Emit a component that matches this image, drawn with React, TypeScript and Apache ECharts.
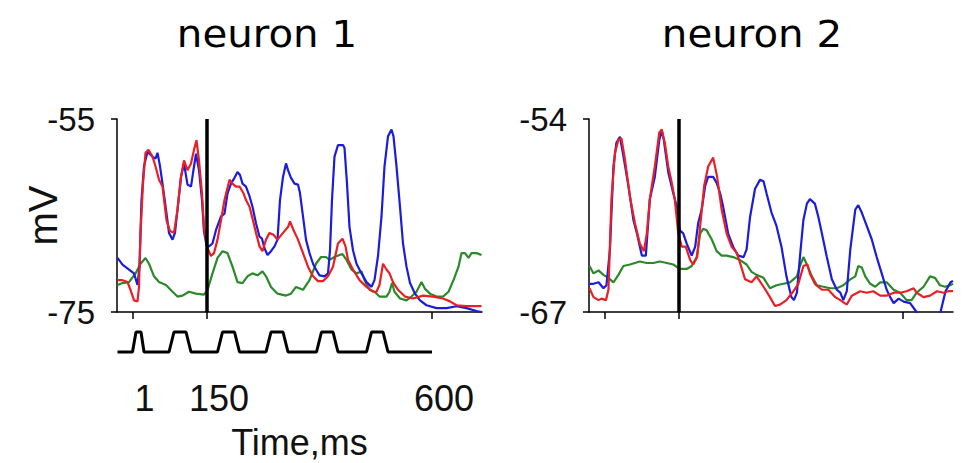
import React, { useEffect, useRef } from 'react';
import * as echarts from 'echarts';

const X_MIN = -30;
const X_MAX = 700;
const xTickValues = [1, 150, 600];
const stimulusOnset = 150;
const n1YTicks = [-75, -55];
const n2YTicks = [-67, -54];
const titles = ['neuron 1', 'neuron 2'];

// neuron 1 traces: [time ms, mV]
const n1Blue = [[-29,-69.4],[-19,-70.1],[-6,-70.6],[4,-71.0],[11,-72.2],[15,-70.3],[19,-63.4],[24,-59.9],[31,-58.4],[41,-58.9],[47,-59.1],[51,-58.5],[56,-59.9],[61,-61.7],[68,-64.4],[74,-66.8],[81,-67.5],[86,-66.8],[91,-64.4],[98,-61.0],[104,-59.6],[111,-61.8],[118,-62.0],[122,-60.6],[128,-58.6],[134,-60.3],[140,-63.4],[144,-66.7],[149,-68.1],[154,-68.2],[161,-67.9],[168,-66.5],[178,-65.1],[185,-64.8],[191,-62.7],[198,-61.7],[205,-61.1],[211,-60.5],[216,-60.8],[221,-61.7],[228,-62.0],[235,-63.0],[241,-64.1],[248,-65.8],[255,-67.2],[260,-67.4],[265,-68.4],[271,-69.1],[278,-68.7],[285,-68.2],[291,-67.5],[296,-63.4],[302,-61.0],[308,-59.6],[312,-60.3],[318,-61.1],[325,-61.7],[332,-61.8],[336,-62.7],[342,-65.1],[348,-67.5],[355,-68.9],[362,-70.0],[368,-70.6],[375,-71.2],[385,-71.3],[392,-71.0],[396,-68.6],[400,-63.4],[405,-58.9],[412,-57.7],[422,-57.7],[425,-58.0],[430,-61.7],[435,-66.2],[442,-68.6],[449,-70.0],[459,-71.0],[469,-71.9],[479,-72.4],[485,-71.7],[492,-69.2],[499,-65.1],[505,-59.9],[512,-56.8],[519,-56.1],[523,-56.8],[529,-59.9],[536,-64.1],[542,-67.9],[549,-70.3],[556,-72.0],[566,-73.1],[576,-73.8],[589,-74.3],[609,-74.6],[629,-74.6],[649,-74.4],[669,-74.6],[689,-74.9],[699,-75.0]];
const n1Red = [[-29,-71.7],[-19,-71.7],[-9,-71.9],[-3,-72.7],[4,-73.8],[11,-73.9],[14,-72.4],[17,-66.8],[22,-61.7],[27,-58.5],[33,-58.2],[41,-58.9],[47,-59.9],[54,-61.3],[61,-62.0],[69,-65.5],[76,-66.6],[84,-66.8],[91,-64.4],[98,-61.0],[104,-59.3],[111,-60.3],[118,-59.6],[124,-58.2],[129,-57.2],[134,-59.3],[140,-62.7],[144,-66.2],[151,-68.4],[158,-69.2],[164,-68.9],[171,-67.5],[178,-65.5],[185,-63.4],[195,-61.3],[201,-61.7],[208,-62.0],[215,-62.0],[223,-62.7],[228,-63.4],[235,-64.1],[241,-65.3],[248,-66.8],[255,-68.2],[261,-68.7],[268,-67.5],[275,-66.8],[283,-67.0],[291,-67.5],[302,-66.8],[312,-66.2],[316,-65.6],[323,-66.5],[332,-67.5],[342,-68.9],[352,-70.3],[362,-71.3],[372,-71.8],[382,-71.8],[392,-71.3],[402,-70.3],[412,-67.9],[421,-67.4],[427,-68.2],[432,-69.6],[442,-70.6],[455,-71.7],[469,-72.4],[482,-72.9],[489,-72.9],[495,-72.2],[502,-70.0],[509,-70.6],[515,-71.0],[522,-71.9],[532,-72.7],[546,-73.4],[562,-73.6],[582,-73.3],[602,-73.4],[622,-73.6],[636,-73.9],[649,-74.3],[669,-74.4],[699,-74.4]];
const n1Green = [[-29,-72.2],[-19,-72.0],[-6,-71.9],[7,-71.0],[17,-70.0],[27,-69.4],[34,-70.0],[44,-71.3],[54,-71.9],[68,-72.2],[81,-72.9],[91,-73.4],[101,-73.3],[114,-72.9],[128,-73.1],[144,-73.2],[151,-72.7],[161,-71.0],[171,-69.4],[181,-68.7],[191,-68.9],[201,-70.3],[211,-71.9],[221,-72.0],[231,-71.3],[241,-71.0],[251,-71.2],[261,-70.8],[268,-71.3],[278,-72.4],[291,-73.1],[308,-73.3],[318,-73.1],[328,-72.4],[342,-72.7],[355,-71.7],[368,-70.0],[378,-69.3],[388,-69.3],[395,-69.6],[405,-69.3],[415,-69.1],[421,-69.0],[429,-69.6],[439,-70.6],[449,-71.0],[459,-70.8],[465,-71.7],[475,-72.7],[485,-72.9],[495,-73.4],[509,-73.4],[515,-72.9],[520,-72.0],[525,-72.9],[536,-73.6],[549,-73.8],[559,-73.4],[569,-72.9],[579,-71.9],[586,-72.6],[596,-73.1],[609,-73.4],[622,-73.4],[633,-72.9],[643,-71.7],[653,-70.3],[659,-68.9],[666,-68.9],[673,-69.4],[679,-68.9],[689,-68.9],[699,-69.1]];

// neuron 2 traces: [time ms, mV]
const n2Blue = [[-29,-65.1],[-21,-65.1],[-11,-65.0],[-1,-65.4],[5,-65.2],[12,-62.8],[19,-57.2],[25,-55.6],[32,-55.2],[39,-56.5],[49,-58.5],[59,-60.8],[66,-61.7],[76,-63.2],[84,-63.2],[92,-59.4],[102,-57.9],[111,-55.4],[116,-54.8],[120,-55.4],[129,-57.6],[139,-59.0],[146,-59.9],[152,-61.5],[159,-61.7],[166,-62.4],[176,-63.2],[183,-62.6],[189,-61.0],[196,-60.1],[203,-58.5],[209,-57.9],[219,-57.9],[226,-58.3],[233,-59.0],[239,-59.9],[249,-61.7],[259,-62.6],[269,-63.2],[280,-63.3],[286,-62.8],[293,-60.6],[303,-58.7],[313,-58.1],[320,-58.2],[326,-59.0],[336,-60.3],[346,-61.2],[356,-62.6],[366,-64.6],[376,-66.0],[381,-66.2],[387,-65.7],[393,-63.3],[400,-60.8],[407,-59.7],[413,-59.4],[423,-59.7],[430,-60.6],[437,-61.7],[447,-63.3],[457,-64.8],[467,-65.5],[474,-65.7],[480,-66.2],[487,-65.6],[494,-62.8],[504,-60.1],[510,-59.8],[517,-60.3],[527,-61.2],[537,-62.1],[547,-63.3],[557,-64.4],[567,-65.5],[574,-66.0],[581,-66.4],[591,-66.1],[601,-66.3],[614,-66.4],[627,-67.0],[640,-67.6],[655,-67.8],[668,-67.5],[675,-67.0],[685,-65.6],[695,-65.0],[700,-64.9]];
const n2Red = [[-29,-65.4],[-21,-66.0],[-11,-66.2],[-5,-66.1],[4,-66.2],[9,-65.5],[15,-59.4],[22,-56.3],[29,-55.4],[35,-55.3],[42,-56.7],[52,-59.2],[62,-61.0],[72,-62.4],[80,-62.9],[86,-61.7],[92,-59.4],[102,-57.2],[111,-54.9],[116,-54.7],[122,-55.6],[129,-57.2],[136,-58.3],[142,-59.4],[149,-61.7],[156,-62.6],[164,-62.6],[173,-63.5],[179,-63.8],[187,-63.3],[193,-61.2],[201,-58.5],[209,-57.2],[219,-56.6],[227,-57.9],[236,-60.1],[246,-61.7],[256,-62.6],[266,-63.0],[273,-63.7],[283,-64.8],[296,-65.0],[306,-64.6],[320,-65.3],[333,-66.0],[343,-66.6],[353,-66.5],[366,-66.2],[380,-65.6],[390,-65.1],[400,-63.9],[408,-63.8],[413,-64.4],[423,-65.1],[437,-65.5],[450,-65.5],[464,-66.0],[474,-66.2],[487,-66.5],[497,-65.9],[514,-65.6],[527,-65.7],[540,-65.6],[554,-65.9],[567,-65.9],[581,-65.7],[594,-65.7],[607,-65.6],[621,-65.4],[627,-65.7],[641,-66.0],[654,-65.9],[668,-65.6],[681,-65.7],[691,-65.6],[700,-65.6]];
const n2Green = [[-29,-63.9],[-21,-64.4],[-11,-64.2],[-1,-64.5],[9,-64.7],[19,-65.0],[29,-64.5],[39,-63.9],[52,-63.8],[62,-63.7],[72,-63.6],[86,-63.7],[99,-63.7],[112,-63.6],[126,-63.7],[139,-63.8],[152,-64.1],[166,-64.1],[176,-63.9],[186,-63.3],[193,-61.7],[199,-61.4],[206,-61.5],[216,-62.1],[226,-62.9],[236,-63.2],[246,-63.2],[259,-63.3],[273,-63.5],[286,-63.8],[296,-64.3],[306,-64.5],[320,-64.7],[333,-65.4],[346,-65.2],[360,-65.1],[373,-65.0],[387,-64.6],[393,-63.9],[400,-63.3],[407,-63.8],[417,-64.6],[427,-65.2],[440,-65.3],[454,-65.4],[467,-65.4],[480,-65.2],[494,-64.8],[504,-64.6],[510,-63.9],[517,-64.0],[524,-64.6],[534,-65.1],[544,-65.3],[554,-65.0],[567,-65.0],[581,-65.5],[594,-65.7],[607,-66.2],[617,-66.2],[627,-65.7],[641,-65.3],[654,-64.6],[664,-64.7],[674,-65.2],[684,-65.3],[694,-65.2],[700,-65.1]];

// stimulus pulse train (ms, level 0/1)
const stimTimes = [-29, 1, 8, 18, 24, 74, 84, 108, 118, 171, 181, 205, 215, 268, 278, 302, 312, 369, 379, 402, 412, 469, 479, 502, 512, 600];
const stimLevels = [0, 0, 1, 1, 0, 0, 1, 1, 0, 0, 1, 1, 0, 0, 1, 1, 0, 0, 1, 1, 0, 0, 1, 1, 0, 0];

const BLUE = '#1c1cdc';
const RED = '#ea1f25';
const GREEN = '#2a8a2a';
const AXIS = '#000';
const LABEL_FONT = '"Liberation Sans", Arial, sans-serif';
const TITLE_FONT = '"DejaVu Sans", Verdana, sans-serif';

function traceSeries(data: number[][], color: string, idx: number, extra: any = {}) {
  return {
    type: 'line',
    xAxisIndex: idx,
    yAxisIndex: idx,
    data,
    showSymbol: false,
    symbol: 'none',
    smooth: false,
    clip: true,
    lineStyle: { color, width: 2.2 },
    itemStyle: { color },
    emphasis: { disabled: true },
    z: 3,
    ...extra,
  };
}

const onsetMark = {
  silent: true,
  symbol: ['none', 'none'],
  label: { show: false },
  lineStyle: { color: '#000', width: 3.5, type: 'solid' },
  emphasis: { disabled: true },
  data: [{ xAxis: stimulusOnset }],
};

function dataAxisX(idx: number) {
  return {
    type: 'value',
    gridIndex: idx,
    min: X_MIN,
    max: X_MAX,
    axisLine: { show: true, onZero: false, lineStyle: { color: AXIS, width: 1.5 } },
    axisTick: { show: true, customValues: xTickValues, length: 7, lineStyle: { color: AXIS, width: 1.5 } },
    axisLabel: { show: false },
    splitLine: { show: false },
  };
}

function dataAxisY(idx: number, ticks: number[], extra: any = {}) {
  return {
    type: 'value',
    gridIndex: idx,
    min: ticks[0],
    max: ticks[1],
    axisLine: { show: true, onZero: false, lineStyle: { color: AXIS, width: 1.5 } },
    axisTick: { show: true, customValues: ticks, length: 6, lineStyle: { color: AXIS, width: 1.5 } },
    axisLabel: { show: true, customValues: ticks, fontFamily: LABEL_FONT, fontSize: 33, color: '#111', margin: 22 },
    splitLine: { show: false },
    ...extra,
  };
}

export default function App() {
  const ref = useRef<HTMLDivElement>(null);
  useEffect(() => {
    document.body.style.margin = '0';
    const chart = echarts.init(ref.current as HTMLDivElement, null, { renderer: 'svg' });
    const option: any = {
      animation: false,
      backgroundColor: '#fff',
      grid: [
        { left: 117, top: 119, width: 365, height: 193, outerBoundsMode: 'none' },
        { left: 589, top: 119, width: 364, height: 193, outerBoundsMode: 'none' },
        { left: 117, top: 332, width: 365, height: 20, outerBoundsMode: 'none' },
      ],
      xAxis: [
        dataAxisX(0),
        dataAxisX(1),
        {
          type: 'value',
          gridIndex: 2,
          min: X_MIN,
          max: X_MAX,
          axisLine: { show: false },
          axisTick: { show: false },
          splitLine: { show: false },
          axisLabel: { show: true, customValues: xTickValues, fontFamily: LABEL_FONT, fontSize: 36, color: '#111', margin: 28, padding: [0, 0, 0, 24] },
          name: 'Time,ms',
          nameLocation: 'middle',
          nameGap: 72,
          nameMoveOverlap: false,
          nameTextStyle: { fontFamily: LABEL_FONT, fontSize: 36, color: '#111' },
        },
      ],
      yAxis: [
        dataAxisY(0, n1YTicks, {
          name: 'mV',
          nameLocation: 'middle',
          nameRotate: 90,
          nameGap: 54,
          nameMoveOverlap: false,
          nameTextStyle: { fontFamily: LABEL_FONT, fontSize: 40, color: '#111' },
        }),
        dataAxisY(1, n2YTicks),
        { type: 'value', gridIndex: 2, min: 0, max: 1, show: false },
      ],
      graphic: [
        { type: 'text', x: 267, y: 34, scaleX: 1.09, style: { text: titles[0], fontFamily: TITLE_FONT, fontSize: 37, fill: '#000', align: 'center', verticalAlign: 'middle' } },
        { type: 'text', x: 752, y: 34, scaleX: 1.09, style: { text: titles[1], fontFamily: TITLE_FONT, fontSize: 37, fill: '#000', align: 'center', verticalAlign: 'middle' } },
      ],
      series: [
        traceSeries(n1Green, GREEN, 0),
        traceSeries(n1Blue, BLUE, 0),
        traceSeries(n1Red, RED, 0, { markLine: onsetMark }),
        traceSeries(n2Green, GREEN, 1),
        traceSeries(n2Blue, BLUE, 1),
        traceSeries(n2Red, RED, 1, { markLine: onsetMark }),
        {
          type: 'line',
          xAxisIndex: 2,
          yAxisIndex: 2,
          data: stimTimes.map((t, i) => [t, stimLevels[i]]),
          showSymbol: false,
          symbol: 'none',
          clip: false,
          lineStyle: { color: '#000', width: 3 },
          emphasis: { disabled: true },
        },
      ],
    };
    chart.setOption(option);
    return () => chart.dispose();
  }, []);
  return <div ref={ref} style={{ width: 964, height: 463 }} />;
}
